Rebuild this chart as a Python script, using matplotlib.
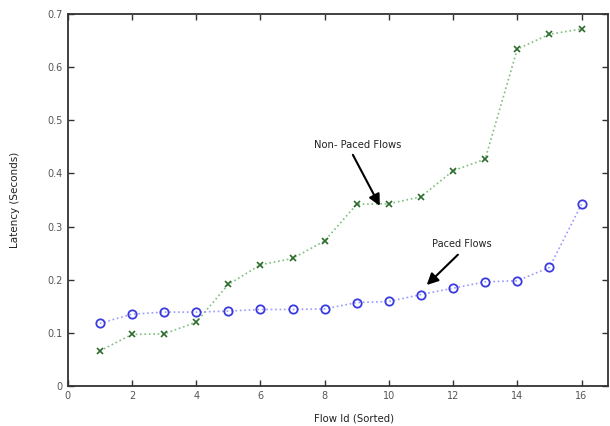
import numpy as np
import matplotlib.pyplot as plt

flow_ids = np.arange(1, 17)
paced = [0.118, 0.135, 0.139, 0.139, 0.141, 0.144, 0.144, 0.145,
         0.157, 0.159, 0.172, 0.184, 0.196, 0.198, 0.223, 0.342]
non_paced = [0.066, 0.097, 0.098, 0.120, 0.191, 0.228, 0.240, 0.273,
             0.342, 0.343, 0.356, 0.405, 0.427, 0.634, 0.662, 0.672]

fig = plt.figure(figsize=(6.1, 4.26), dpi=100)
ax = fig.add_axes([0.111, 0.094, 0.886, 0.873])

ax.plot(flow_ids, non_paced, linestyle=':', color='#7fbf7f', linewidth=1.2,
        marker='x', markersize=4, markeredgecolor='#2e6b2e', markeredgewidth=1.2)
ax.plot(flow_ids, paced, linestyle=':', color='#9999ff', linewidth=1.2,
        marker='o', markersize=6, markerfacecolor='none',
        markeredgecolor='#3a3ae0', markeredgewidth=1.3)

ax.set_xlim(0, 16.83)
ax.set_ylim(0, 0.7)
ax.set_xticks(np.arange(0, 17, 2))
ax.set_yticks(np.arange(0, 0.71, 0.1))
ax.set_yticklabels(['0', '0.1', '0.2', '0.3', '0.4', '0.5', '0.6', '0.7'])
ax.tick_params(direction='in', top=True, right=True, labelsize=7,
               length=4, width=1, colors='#333333', labelcolor='#555555')
for s in ax.spines.values():
    s.set_linewidth(1.3)
    s.set_color('#333333')

ax.set_xlabel('Flow Id (Sorted)', fontsize=7.3, color='#222222')
ax.xaxis.set_label_coords(0.53, -0.075)
ax.set_ylabel('Latency (Seconds)', fontsize=7.5, color='#222222')
ax.yaxis.set_label_coords(-0.088, 0.5)

# labels and arrows
ax.text(9.03, 0.4535, 'Non- Paced Flows', fontsize=7.2, ha='center', va='center', color='#222222')
ax.annotate('', xy=(9.72, 0.339), xytext=(8.88, 0.435),
            arrowprops=dict(arrowstyle='-|>', color='black', lw=1.5,
                            mutation_scale=17, shrinkA=0, shrinkB=0))
ax.text(12.27, 0.267, 'Paced Flows', fontsize=7, ha='center', va='center', color='#222222')
ax.annotate('', xy=(11.18, 0.190), xytext=(12.15, 0.247),
            arrowprops=dict(arrowstyle='-|>', color='black', lw=1.5,
                            mutation_scale=17, shrinkA=0, shrinkB=0))

fig.savefig('out.png', dpi=100)
